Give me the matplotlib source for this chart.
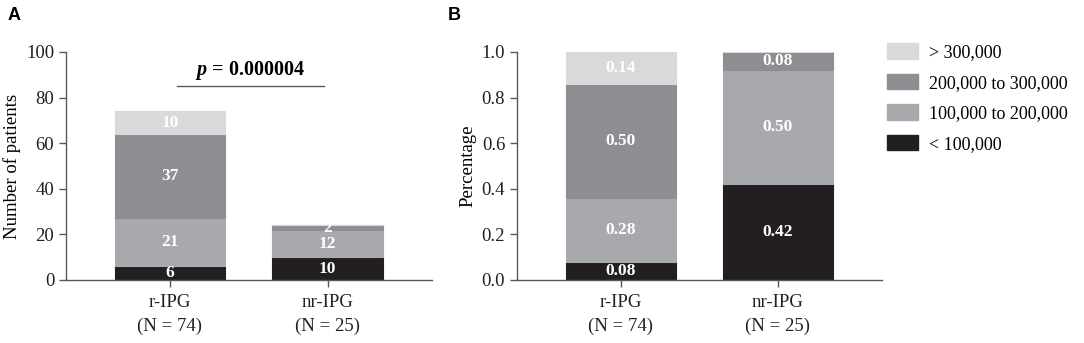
import matplotlib
matplotlib.use("Agg")
import matplotlib.pyplot as plt
from matplotlib.patches import Patch
import numpy as np

groups = ["r-IPG\n(N = 74)", "nr-IPG\n(N = 25)"]
categories = ["< 100,000", "100,000 to 200,000", "200,000 to 300,000", "> 300,000"]
colors = ["#231f20", "#a8a9ad", "#8d8e91", "#d8d9db"]

counts = {
    "< 100,000": [6, 10],
    "100,000 to 200,000": [21, 12],
    "200,000 to 300,000": [37, 2],
    "> 300,000": [10, 0],
}
props = {
    "< 100,000": [0.08, 0.42],
    "100,000 to 200,000": [0.28, 0.50],
    "200,000 to 300,000": [0.50, 0.08],
    "> 300,000": [0.14, 0.0],
}
p_text = "0.000004"

plt.rcParams['font.family'] = ['Liberation Serif', 'DejaVu Serif']
plt.rcParams['mathtext.fontset'] = 'custom'
plt.rcParams['mathtext.it'] = 'Liberation Serif:italic:bold'
plt.rcParams['mathtext.rm'] = 'Liberation Serif:bold'
SPINE = "#58595b"

fig = plt.figure(figsize=(10.84, 3.43), dpi=100)
axA = fig.add_axes([66/1084, 63/343, 366/1084, 228/343])
axB = fig.add_axes([517/1084, 63/343, 365/1084, 228/343])

x = np.arange(len(groups))
width = 0.70

def draw(ax, data, fmt):
    bottom = np.zeros(len(groups))
    for cat, col in zip(categories, colors):
        vals = np.array(data[cat], dtype=float)
        ax.bar(x, vals, width, bottom=bottom, color=col, edgecolor=col, linewidth=0.8, zorder=2)
        for xi, v, b in zip(x, vals, bottom):
            if v > 0:
                ax.text(xi, b + v / 2, fmt(v), ha="center", va="center", color="white",
                        fontsize=12.5, fontweight="bold", zorder=3)
        bottom += vals
    ax.set_xticks(x)
    ax.set_xticklabels(groups, fontsize=13.5, linespacing=1.5)
    for s in ["top", "right"]:
        ax.spines[s].set_visible(False)
    for s in ["left", "bottom"]:
        ax.spines[s].set_color(SPINE)
        ax.spines[s].set_linewidth(1.0)
    ax.tick_params(axis="both", colors=SPINE, length=5, width=1.0, labelsize=13.5, labelcolor="#231f20")
    ax.tick_params(axis="x", pad=5)
    ax.set_xlim(-0.66, 1.663)

draw(axA, counts, lambda v: f"{int(v)}")
axA.set_ylim(0, 100)
axA.set_yticks([0, 20, 40, 60, 80, 100])
axA.set_ylabel("Number of patients", fontsize=13.5, labelpad=4)
axA.plot([0.044, 0.98], [85, 85], color=SPINE, linewidth=1.0, clip_on=False)
axA.text(0.51, 92, r"$p$ = " + p_text, ha="center", va="center",
         fontsize=14.5, fontweight="bold")

draw(axB, props, lambda v: f"{v:.2f}")
axB.set_ylim(0, 1.0)
axB.set_yticks([0, 0.2, 0.4, 0.6, 0.8, 1.0])
axB.set_yticklabels([f"{t:.1f}" for t in [0, 0.2, 0.4, 0.6, 0.8, 1.0]])
axB.set_ylabel("Percentage", fontsize=13.5, labelpad=4)

handles = [Patch(facecolor=c, edgecolor=c, label=l) for l, c in zip(categories, colors)][::-1]
fig.legend(handles=handles, loc="upper left", bbox_to_anchor=(887/1084, 1 - 43/343),
           frameon=False, fontsize=13, handlelength=1.7, handleheight=0.95,
           labelspacing=0.7, handletextpad=0.65, borderaxespad=0, borderpad=0)

fig.text(8/1084, 1 - 15/343, "A", fontsize=13, fontweight="bold", family="Liberation Sans",
         va="center", ha="left")
fig.text(448/1084, 1 - 15/343, "B", fontsize=13, fontweight="bold", family="Liberation Sans",
         va="center", ha="left")

fig.savefig("out.png", dpi=100)
